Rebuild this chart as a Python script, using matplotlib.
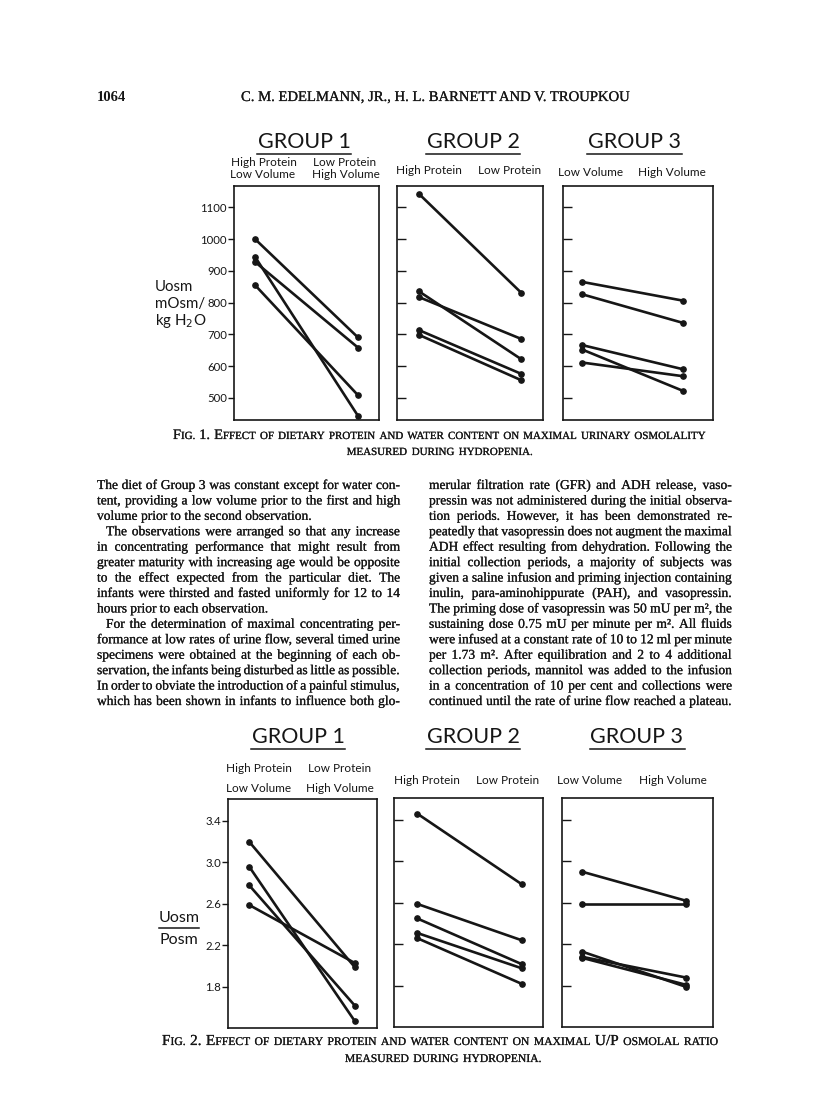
import matplotlib
matplotlib.use("Agg")
import matplotlib.pyplot as plt
from matplotlib.lines import Line2D
import matplotlib.patheffects as pe

# ---------------- data ----------------
fig1_ticks = [500, 600, 700, 800, 900, 1000, 1100]
fig2_ticks = [1.8, 2.2, 2.6, 3.0, 3.4]
fig2_ticklabels = ["1.8", "2.2", "2.6", "3.0", "3.4"]

group_titles = ["GROUP 1", "GROUP 2", "GROUP 3"]
g1_labels = ["High Protein\nLow Volume", "Low Protein\nHigh Volume"]
g2_labels = ["High Protein", "Low Protein"]
g3_labels = ["Low Volume", "High Volume"]

# Fig. 1: Uosm (mOsm/kg H2O), first vs second observation
f1_g1_first = [1000, 944, 928, 855]
f1_g1_second = [690, 443, 658, 508]
f1_g2_first = [1142, 835, 817, 713, 698]
f1_g2_second = [830, 621, 685, 575, 555]
f1_g3_first = [865, 826, 666, 652, 611]
f1_g3_second = [806, 736, 590, 522, 568]

# Fig. 2: Uosm/Posm
f2_g1_first = [3.20, 2.96, 2.78, 2.59]
f2_g1_second = [1.99, 1.47, 1.62, 2.03]
f2_g2_first = [3.46, 2.59, 2.45, 2.31, 2.26]
f2_g2_second = [2.78, 2.24, 2.01, 1.97, 1.82]
f2_g3_first = [2.90, 2.59, 2.13, 2.08, 2.07]
f2_g3_second = [2.62, 2.59, 1.79, 1.88, 1.81]

# ---------------- page setup ----------------
W, H = 816, 1109
INK = "#161616"
SANS = ["Lato", "DejaVu Sans"]
SERIF = ["Liberation Serif", "DejaVu Serif"]
THICKEN = [pe.withStroke(linewidth=0.15, foreground=INK)]

fig = plt.figure(figsize=(W / 100, H / 100), dpi=100)
fig.patch.set_facecolor("white")
renderer = fig.canvas.get_renderer()


def fx(x):
    return x / W


def fy(y):
    return 1 - y / H


def add_axes_px(x0, y0, x1, y1):
    return fig.add_axes([fx(x0), fy(y1), (x1 - x0) / W, (y1 - y0) / H])


def text_px(x, y, s, **kw):
    kw.setdefault("color", INK)
    return fig.text(fx(x), fy(y), s, **kw)


def width_of(s, size, family):
    t = fig.text(0, 0, s, fontsize=size, family=family)
    w = t.get_window_extent(renderer).width
    t.remove()
    return w


def hline_px(x0, x1, y, lw=1.0):
    fig.add_artist(Line2D([fx(x0), fx(x1)], [fy(y), fy(y)], transform=fig.transFigure,
                          color=INK, lw=lw))


def draw_panel(ax, first, second, xlim, ylim, ticks, ticklabels=None):
    for a, b in zip(first, second):
        ax.plot([0, 1], [a, b], color=INK, lw=1.9, marker="o", ms=3.8,
                solid_capstyle="round")
    ax.set_xlim(*xlim)
    ax.set_ylim(*ylim)
    ax.set_xticks([])
    ax.set_yticks(ticks)
    if ticklabels is not None:
        ax.set_yticklabels(ticklabels, fontsize=8.2, family=SANS, color=INK)
        ax.tick_params(axis="y", direction="out", length=4.5, width=1.0, color=INK, pad=0.5)
    else:
        ax.set_yticklabels([])
        ax.tick_params(axis="y", direction="in", length=6.5, width=1.0, color=INK)
    for s in ax.spines.values():
        s.set_linewidth(1.2)
        s.set_color(INK)
    ax.set_facecolor("white")


def group_title(cx, cy, s, underline_y):
    t = text_px(cx, cy, s, fontsize=15.5, family=SANS, ha="center", va="center")
    w = t.get_window_extent(renderer).width
    hline_px(cx - w / 2 - 1, cx + w / 2 + 1, underline_y, lw=1.1)


# ---------------- Fig. 1 ----------------
yl1 = (430, 1167)
ax = add_axes_px(234, 186, 379, 420)
draw_panel(ax, f1_g1_first, f1_g1_second, (-0.204, 1.204), yl1, fig1_ticks,
           [str(v) for v in fig1_ticks])
ax = add_axes_px(397, 186, 543, 420)
draw_panel(ax, f1_g2_first, f1_g2_second, (-0.215, 1.21), yl1, fig1_ticks)
ax = add_axes_px(563, 186, 713, 420)
draw_panel(ax, f1_g3_first, f1_g3_second, (-0.19, 1.30), yl1, fig1_ticks)

for cx, s in zip([304, 473, 634], group_titles):
    group_title(cx, 142, s, 154)

lab_kw = dict(fontsize=8.5, family=SANS, ha="center", va="center")
g1a, g1b = g1_labels[0].split("\n"), g1_labels[1].split("\n")
text_px(264, 162, g1a[0], **lab_kw)
text_px(263, 175, g1a[1], **lab_kw)
text_px(345, 162, g1b[0], **lab_kw)
text_px(346, 175, g1b[1], **lab_kw)
text_px(429, 171, g2_labels[0], **lab_kw)
text_px(510, 171, g2_labels[1], **lab_kw)
text_px(591, 172, g3_labels[0], **lab_kw)
text_px(672, 172, g3_labels[1], **lab_kw)

ylab_kw = dict(fontsize=10.8, family=SANS, ha="left", va="center")
text_px(155, 287, "Uosm", **ylab_kw)
text_px(155, 304, "mOsm/", **ylab_kw)
text_px(155, 321, "kg H$_2$O", **ylab_kw)

# ---------------- Fig. 2 ----------------
yl2 = (1.404, 3.611)
ax = add_axes_px(228, 799, 377, 1028)
draw_panel(ax, f2_g1_first, f2_g1_second, (-0.20, 1.21), yl2, fig2_ticks,
           fig2_ticklabels)
ax = add_axes_px(394, 798, 543, 1027)
draw_panel(ax, f2_g2_first, f2_g2_second, (-0.223, 1.204), yl2, fig2_ticks)
ax = add_axes_px(562, 798, 713, 1027)
draw_panel(ax, f2_g3_first, f2_g3_second, (-0.195, 1.257), yl2, fig2_ticks)

for cx, s in zip([298, 473, 637], group_titles):
    group_title(cx, 737, s, 749)

text_px(259, 768, g1a[0], **lab_kw)
text_px(259, 788, g1a[1], **lab_kw)
text_px(340, 768, g1b[0], **lab_kw)
text_px(340, 788, g1b[1], **lab_kw)
text_px(427, 781, g2_labels[0], **lab_kw)
text_px(508, 781, g2_labels[1], **lab_kw)
text_px(590, 780, g3_labels[0], **lab_kw)
text_px(673, 780, g3_labels[1], **lab_kw)

text_px(179, 918, "Uosm", fontsize=11.5, family=SANS, ha="center", va="center")
hline_px(159, 199, 928, lw=1.1)
text_px(179, 940, "Posm", fontsize=11.5, family=SANS, ha="center", va="center")


# ---------------- small-caps captions ----------------
def draw_words(words, baseline, size, family, x0=None, x1=None, cx=None, small=0.76):
    """words: list of lists of (text, is_large). Justified between x0,x1 or centred at cx."""
    def seg_w(seg, sz):
        return width_of(seg[0], sz if seg[1] else sz * small, family)

    def nat(sz):
        sp = width_of("a a", sz * small, family) - width_of("aa", sz * small, family)
        ws = [sum(seg_w(sg, sz) for sg in wd) for wd in words]
        return ws, sp

    ws, sp = nat(size)
    if x0 is not None:
        natural = sum(ws) + sp * 1.6 * (len(words) - 1)
        size = size * (x1 - x0) / natural
        ws, sp = nat(size)
        gap = (x1 - x0 - sum(ws)) / (len(words) - 1)
        x = x0
    else:
        gap = sp * 1.6
        total = sum(ws) + gap * (len(words) - 1)
        x = cx - total / 2
    for wd, wtot in zip(words, ws):
        xx = x
        for seg in wd:
            sz = size if seg[1] else size * small
            text_px(xx, baseline, seg[0], fontsize=sz, family=family, ha="left",
                    va="baseline", path_effects=THICKEN)
            xx += seg_w(seg, size)
        x += wtot + gap
    return size


def sc(line):
    return [[(w, False)] for w in line.split()]


cap1 = [[("F", True), ("IG.", False)], [("1.", True)], [("E", True), ("FFECT", False)]] + \
    sc("OF DIETARY PROTEIN AND WATER CONTENT ON MAXIMAL URINARY OSMOLALITY")
sz = draw_words(cap1, 439, 9.5, SERIF, x0=173, x1=706)
draw_words(sc("MEASURED DURING HYDROPENIA."), 455, sz, SERIF, cx=440)

cap2 = [[("F", True), ("IG.", False)], [("2.", True)], [("E", True), ("FFECT", False)]] + \
    sc("OF DIETARY PROTEIN AND WATER CONTENT ON MAXIMAL") + [[("U/P", True)]] + \
    sc("OSMOLAL RATIO")
sz2 = draw_words(cap2, 1045, 9.5, SERIF, x0=162, x1=718)
draw_words(sc("MEASURED DURING HYDROPENIA."), 1062, sz2, SERIF, cx=443)

# ---------------- running head ----------------
text_px(97, 101, "1064", fontsize=10.5, family=SERIF, weight="bold", ha="left", va="baseline")
head = "C. M. EDELMANN, JR., H. L. BARNETT AND V. TROUPKOU"
hw = width_of(head, 10, SERIF)
text_px(241, 101, head, fontsize=10 * 389 / hw, family=SERIF, ha="left", va="baseline",
        path_effects=THICKEN)

# ---------------- body text (two justified columns) ----------------
left_col = [
    ("The diet of Group 3 was constant except for water con-", True, False),
    ("tent, providing a low volume prior to the first and high", True, False),
    ("volume prior to the second observation.", False, False),
    ("The observations were arranged so that any increase", True, True),
    ("in concentrating performance that might result from", True, False),
    ("greater maturity with increasing age would be opposite", True, False),
    ("to the effect expected from the particular diet.  The", True, False),
    ("infants were thirsted and fasted uniformly for 12 to 14", True, False),
    ("hours prior to each observation.", False, False),
    ("For the determination of maximal concentrating per-", True, True),
    ("formance at low rates of urine flow, several timed urine", True, False),
    ("specimens were obtained at the beginning of each ob-", True, False),
    ("servation, the infants being disturbed as little as possible.", True, False),
    ("In order to obviate the introduction of a painful stimulus,", True, False),
    ("which has been shown in infants to influence both glo-", True, False),
]
right_col = [
    ("merular filtration rate (GFR) and ADH release, vaso-", True, False),
    ("pressin was not administered during the initial observa-", True, False),
    ("tion periods.  However, it has been demonstrated re-", True, False),
    ("peatedly that vasopressin does not augment the maximal", True, False),
    ("ADH effect resulting from dehydration.  Following the", True, False),
    ("initial collection periods, a majority of subjects was", True, False),
    ("given a saline infusion and priming injection containing", True, False),
    ("inulin, para-aminohippurate (PAH), and vasopressin.", True, False),
    ("The priming dose of vasopressin was 50 mU per m², the", True, False),
    ("sustaining dose 0.75 mU per minute per m².  All fluids", True, False),
    ("were infused at a constant rate of 10 to 12 ml per minute", True, False),
    ("per 1.73 m².  After equilibration and 2 to 4 additional", True, False),
    ("collection periods, mannitol was added to the infusion", True, False),
    ("in a concentration of 10 per cent and collections were", True, False),
    ("continued until the rate of urine flow reached a plateau.", True, False),
]

COLW = 303
INDENT = 9
base = 10.0
sp10 = width_of("a a", base, SERIF) - width_of("aa", base, SERIF)
word_cache = {}


def ww(w, size):
    key = (w, size)
    if key not in word_cache:
        word_cache[key] = width_of(w, size, SERIF)
    return word_cache[key]


maxratio = 0
for line, just, ind in left_col + right_col:
    words = line.split()
    nat = sum(ww(w, base) for w in words) + sp10 * 0.8 * (len(words) - 1)
    maxratio = max(maxratio, nat / (COLW - (INDENT if ind else 0)))
bsize = base / maxratio
sp = width_of("a a", bsize, SERIF) - width_of("aa", bsize, SERIF)


def draw_column(lines, x0, y0, step):
    for i, (line, just, ind) in enumerate(lines):
        y = y0 + i * step
        xs = x0 + (INDENT if ind else 0)
        words = line.split()
        wws = [ww(w, bsize) for w in words]
        if just and len(words) > 1:
            gap = (x0 + COLW - xs - sum(wws)) / (len(words) - 1)
        else:
            gap = sp
        x = xs
        for w, wv in zip(words, wws):
            text_px(x, y, w, fontsize=bsize, family=SERIF, ha="left", va="baseline",
                    path_effects=THICKEN)
            x += wv + gap


draw_column(left_col, 97, 489, 15.43)
draw_column(right_col, 429, 489, 15.43)

fig.savefig("out.png", dpi=100, facecolor="white")
